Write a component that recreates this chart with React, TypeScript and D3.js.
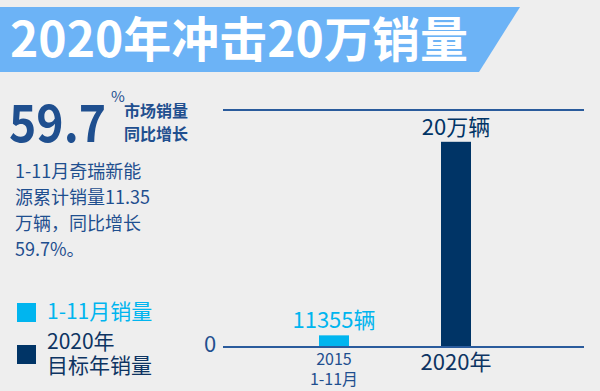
import React, { useEffect, useRef } from 'react';
import * as d3 from 'd3';

const categories = ['2015 1-11月', '2020年'];
const values = [11355, 200000];
const valueLabels = ['11355辆', '20万辆'];
const axisLabels = [['2015', '1-11月'], ['2020年']];
const barColors = ['#00b5ef', '#003466'];
const legendItems = [
  { lines: ['1-11月销量'], color: '#00b5ef', text: '#00b5ef' },
  { lines: ['2020年', '目标年销量'], color: '#003466', text: '#0d3462' },
];
const noteLines = ['1-11月奇瑞新能', '源累计销量11.35', '万辆，同比增长', '59.7%。'];

const W = 600;
const H = 391;
const FONT = '"Noto Sans CJK SC", "Noto Sans", sans-serif';

export default function App() {
  const svgRef = useRef<SVGSVGElement>(null);

  useEffect(() => {
    if (!svgRef.current) return;
    const svg = d3.select(svgRef.current);
    svg.selectAll('*').remove();

    svg.append('rect').attr('width', W).attr('height', H).attr('fill', '#eeeeee');

    // title banner
    svg.append('path')
      .attr('d', 'M0,7 L520,7 L479,72 L0,72 Z')
      .attr('fill', '#6cb3f6');
    svg.append('text')
      .attr('x', 10).attr('y', 57)
      .attr('fill', '#ffffff')
      .attr('font-family', FONT)
      .attr('font-weight', 700)
      .attr('font-size', 48)
      .text('2020年冲击20万销量');

    // big percentage
    svg.append('text')
      .attr('x', 9).attr('y', 142)
      .attr('fill', '#1f4f8f')
      .attr('font-family', FONT)
      .attr('font-weight', 700)
      .attr('font-size', 52)
      .attr('textLength', 97)
      .attr('lengthAdjust', 'spacingAndGlyphs')
      .text('59.7');
    svg.append('text')
      .attr('x', 111).attr('y', 102)
      .attr('fill', '#1f4f8f')
      .attr('font-family', FONT)
      .attr('font-size', 15)
      .text('%');
    ['市场销量', '同比增长'].forEach((t, i) => {
      svg.append('text')
        .attr('x', 124).attr('y', 117 + i * 23)
        .attr('fill', '#1f4f8f')
        .attr('font-family', FONT)
        .attr('font-weight', 700)
        .attr('font-size', 16)
        .text(t);
    });

    noteLines.forEach((t, i) => {
      svg.append('text')
        .attr('x', 15).attr('y', 178 + i * 26)
        .attr('fill', '#1f4f8f')
        .attr('font-family', FONT)
        .attr('font-size', 18)
        .text(t);
    });

    // legend
    legendItems.forEach((item, i) => {
      const y0 = 303 + i * 42;
      svg.append('rect')
        .attr('x', 17).attr('y', y0)
        .attr('width', 19).attr('height', 19)
        .attr('fill', item.color);
      item.lines.forEach((l, j) => {
        svg.append('text')
          .attr('x', 47).attr('y', y0 + 16 + j * 24 - (item.lines.length > 1 ? 12 : 0))
          .attr('fill', item.text)
          .attr('font-family', FONT)
          .attr('font-size', 21)
          .text(l);
      });
    });

    // chart
    const x0 = 223, x1 = 584;
    const y = d3.scaleLinear().domain([0, 231000]).range([347, 110]);
    const x = d3.scalePoint<string>().domain(categories).range([334, 456]);
    const barW = 30;

    svg.append('line')
      .attr('x1', x0).attr('x2', x1)
      .attr('y1', y(231000)).attr('y2', y(231000))
      .attr('stroke', '#2a5b9c').attr('stroke-width', 2);

    categories.forEach((c, i) => {
      const v = values[i];
      const cx = x(c)!;
      svg.append('rect')
        .attr('x', cx - barW / 2)
        .attr('y', y(v))
        .attr('width', barW)
        .attr('height', y(0) - y(v))
        .attr('fill', barColors[i]);
      svg.append('text')
        .attr('x', cx).attr('y', y(v) - 7)
        .attr('text-anchor', 'middle')
        .attr('fill', barColors[i])
        .attr('font-family', FONT)
        .attr('font-size', 22)
        .text(valueLabels[i]);
      const lab = axisLabels[i];
      lab.forEach((l, j) => {
        svg.append('text')
          .attr('x', cx)
          .attr('y', lab.length > 1 ? 365 + j * 20 : 370)
          .attr('text-anchor', 'middle')
          .attr('fill', lab.length > 1 ? '#1f4f8f' : '#0d3462')
          .attr('font-family', FONT)
          .attr('font-size', lab.length > 1 ? 16 : 22)
          .text(l);
      });
    });

    svg.append('line')
      .attr('x1', x0).attr('x2', x1)
      .attr('y1', y(0)).attr('y2', y(0))
      .attr('stroke', '#2a5b9c').attr('stroke-width', 2);

    svg.append('text')
      .attr('x', 204).attr('y', 352)
      .attr('fill', '#1f4f8f')
      .attr('font-family', FONT)
      .attr('font-size', 22)
      .text('0');
  }, []);

  return (
    <svg ref={svgRef} width={W} height={H}
      style={{ position: 'absolute', left: 0, top: 0, display: 'block' }} />
  );
}
